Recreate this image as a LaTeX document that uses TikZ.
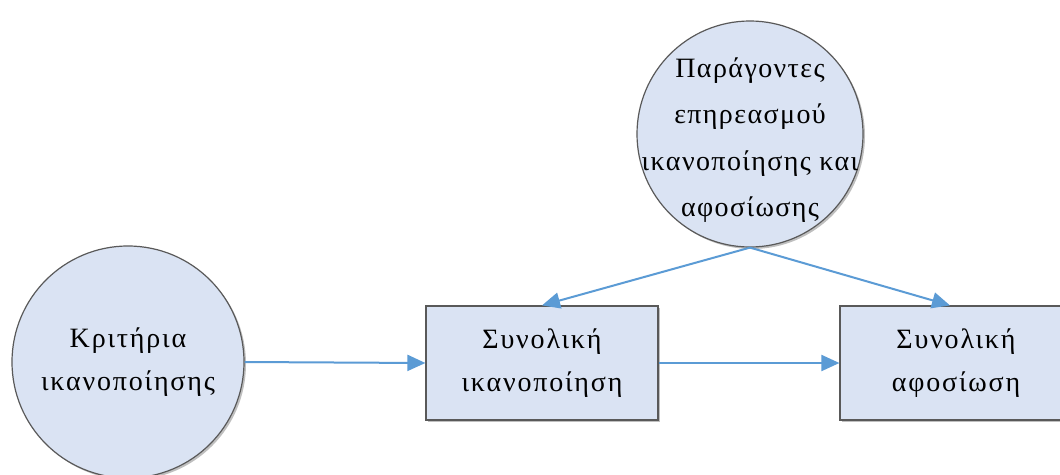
\documentclass[tikz,border=0pt]{standalone}
\usepackage{fontspec}
\setmainfont{Liberation Serif}
\newfontfamily\widegreek[LetterSpace=6.5]{Liberation Serif}
\newfontfamily\widergreek[LetterSpace=5]{Liberation Serif}
\usetikzlibrary{arrows.meta,shadows}
\definecolor{nodefill}{HTML}{DAE3F3}
\definecolor{edgeline}{HTML}{5B9BD5}
\definecolor{border}{HTML}{595959}
\begin{document}
\begin{tikzpicture}[x=1pt,y=-1pt,
  base/.style={draw=border, line width=1.2pt, fill=nodefill, align=center,
    font=\widegreek\fontsize{28}{43}\selectfont, inner sep=-40pt,
    drop shadow={shadow xshift=2pt, shadow yshift=-2pt, opacity=0.25, fill=black}},
  ball/.style={base, circle, minimum size=232pt},
  panel/.style={base, rectangle, inner sep=0pt, minimum width=232pt, minimum height=114pt},
  flow/.style={draw=edgeline, line width=2pt, -{Triangle[length=18pt,width=16pt]}}]
\clip (0,0) rectangle (1060,474);
\fill[white] (0,0) rectangle (1060,474);
% criteria circle, partly cut at the lower edge
\node[ball] (crit) at (128,362) {Κριτήρια\\ικανοποίησης};
% influencing factors circle
\node[ball, minimum size=226pt,
  label={[name=factlabel, align=center, font=\widergreek\fontsize{28}{46.5}\selectfont,
          yshift=-6pt]center:{Παράγοντες\\επηρεασμού\\ικανοποίησης και\\αφοσίωσης}}]
  (fact) at (750,134) {};
% outcome boxes
\node[panel] (sat) at (542,363) {Συνολική\\ικανοποίηση};
\node[panel] (loy) at (956,363) {Συνολική\\αφοσίωση};
% connectors
\draw[flow] (crit.east) -- (sat.west);
\draw[flow] (sat.east) -- (loy.west);
\draw[flow] (fact.south) -- (sat.north);
\draw[flow] (fact.south) -- ([xshift=-6pt]loy.north);
\end{tikzpicture}
\end{document}
